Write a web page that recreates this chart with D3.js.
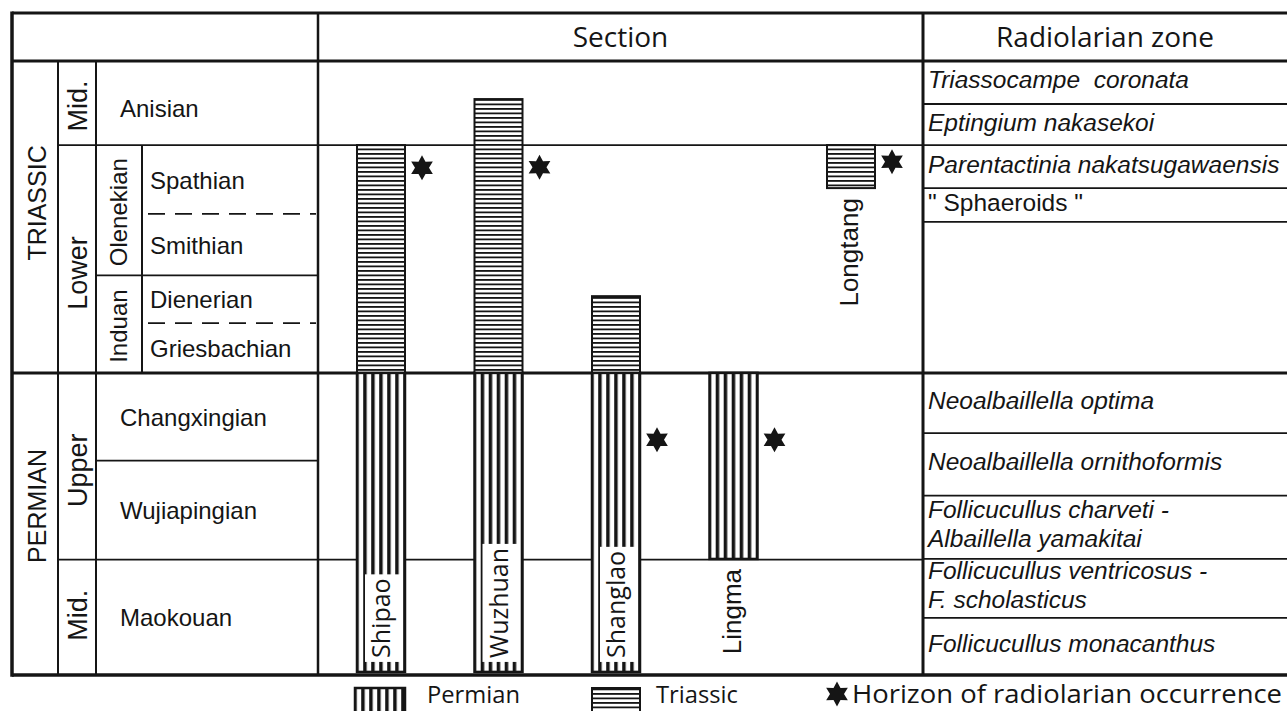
<!DOCTYPE html>
<html>
<head>
<meta charset="utf-8">
<script src="https://cdn.jsdelivr.net/npm/d3@7"></script>
<style>
  html, body { margin: 0; padding: 0; background: #fff; overflow: hidden; }
  svg { display: block; }
  text { white-space: pre; }
</style>
</head>
<body>
<svg id="chart" width="1287" height="711"></svg>
<script>
// ---------------------------------------------------------------
// Data: stratigraphic level on a relative 0–100 scale
// (0 = top of Anisian, 100 = base of Maokouan)
// ---------------------------------------------------------------
const systems = [
  { name: "TRIASSIC", top: 0,    base: 50.8 },
  { name: "PERMIAN",  top: 50.8, base: 100 }
];
const seriesUnits = [
  { name: "Mid.",  top: 0,    base: 13.7 },
  { name: "Lower", top: 13.7, base: 50.8 },
  { name: "Upper", top: 50.8, base: 81.2 },
  { name: "Mid.",  top: 81.2, base: 100 }
];
const stageGroups = [
  { name: "Olenekian", top: 13.7, base: 34.9 },
  { name: "Induan",    top: 34.9, base: 50.8 }
];
const stageNames  = ["Anisian", "Spathian", "Smithian", "Dienerian", "Griesbachian", "Changxingian", "Wujiapingian", "Maokouan"];
const stageTops   = [0,    13.7, 24.9, 34.9, 42.7, 50.8, 65.1, 81.2];
const stageBases  = [13.7, 24.9, 34.9, 42.7, 50.8, 65.1, 81.2, 100];
const stageInGroup = [false, true, true, true, true, false, false, false];
const informalBoundaries = [24.9, 42.7];   // substage limits (dashed)

const sections     = ["Shipao", "Wuzhuan", "Shanglao", "Lingma", "Longtang"];
const permianTop   = [50.8, 50.8, 50.8, 50.8, null];
const permianBase  = [99.5, 99.5, 99.5, 81.1, null];
const triassicTop  = [13.7, 6.2,  38.3, null, 13.7];
const triassicBase = [50.8, 50.8, 50.8, null, 20.7];
const occurrences  = [17.4, 17.3, 61.7, 61.7, 16.4];

const zoneBounds = [0, 7.0, 13.7, 20.7, 26.2, 50.8, 60.6, 70.8, 81.1, 90.7, 100];
const zoneNames = [
  ["Triassocampe  coronata"],
  ["Eptingium nakasekoi"],
  ["Parentactinia nakatsugawaensis"],
  ["\" Sphaeroids \""],
  [],
  ["Neoalbaillella optima"],
  ["Neoalbaillella ornithoformis"],
  ["Follicucullus charveti -", "Albaillella yamakitai"],
  ["Follicucullus ventricosus -", "F. scholasticus"],
  ["Follicucullus monacanthus"]
];
const zoneIsTaxon = [true, true, true, false, false, true, true, true, true, true];

const headers = ["Section", "Radiolarian zone"];
const legendLabels = ["Permian", "Triassic", "Horizon of radiolarian occurrence"];

// ---------------------------------------------------------------
// Layout
// ---------------------------------------------------------------
const INK = "#151515";
const SANS = "'Liberation Sans', Arial, Helvetica, sans-serif";
const HUMANIST = "'Open Sans', 'Noto Sans', sans-serif";
const X = { left: 12, sys: 58, ser: 96, sub: 142, strat: 318, sect: 923, right: 1287 };
const frameTop = 13, headBottom = 61, frameBottom = 675;

const y = d3.scaleLinear().domain([0, 100]).range([headBottom, frameBottom]);
const x = d3.scalePoint().domain(sections).range([381, 851]);
const barW = 48;

const svg = d3.select("#chart");
svg.append("rect").attr("width", 1287).attr("height", 711).attr("fill", "#fff");
const defs = svg.append("defs");

// Triassic fill: fine horizontal ruling
const tri = defs.append("pattern").attr("id", "tri")
  .attr("patternUnits", "userSpaceOnUse").attr("width", 10).attr("height", 4.5);
tri.append("rect").attr("width", 10).attr("height", 4.5).attr("fill", "#fff");
tri.append("rect").attr("y", 0).attr("width", 10).attr("height", 1.8).attr("fill", INK);

// Permian fill: bold vertical ruling, aligned to each column
function permianPattern(id, x0) {
  const p = defs.append("pattern").attr("id", id)
    .attr("patternUnits", "userSpaceOnUse")
    .attr("x", x0 + 6.2).attr("y", 0)
    .attr("width", 8).attr("height", 10);
  p.append("rect").attr("width", 8).attr("height", 10).attr("fill", "#fff");
  p.append("rect").attr("width", 3.5).attr("height", 10).attr("fill", INK);
}
sections.forEach((s, i) => permianPattern("perm" + i, x(s) - barW / 2));

const lines = svg.append("g").attr("stroke", INK).attr("fill", "none");
function hline(yy, x1, x2, w, dash) {
  const l = lines.append("line").attr("x1", x1).attr("x2", x2).attr("y1", yy).attr("y2", yy)
    .attr("stroke-width", w);
  if (dash) l.attr("stroke-dasharray", dash);
}
function vline(xx, y1, y2, w) {
  lines.append("line").attr("x1", xx).attr("x2", xx).attr("y1", y1).attr("y2", y2)
    .attr("stroke-width", w);
}

// series boundaries inside Triassic/Permian (run through the section column)
seriesUnits.slice(1).forEach(d => {
  if (d.top !== systems[1].top) hline(y(d.top), X.sys, X.sect, 1.8);
});
// stage boundaries in the stage column
stageTops.forEach((t, i) => {
  if (i === 0) return;
  const onSeries = seriesUnits.some(s => s.top === t) || systems.some(s => s.top === t);
  if (onSeries || informalBoundaries.includes(t)) return;
  hline(y(t), X.ser, X.strat, 1.8);
});
informalBoundaries.forEach(t => hline(y(t), X.sub + 6, X.strat - 2, 1.8, "17 10"));
// zone boundaries
zoneBounds.slice(1, -1).forEach(t => {
  if (t === systems[1].top) return;
  hline(y(t), X.sect, X.right, 1.8);
});
// Triassic / Permian boundary
hline(y(systems[1].top), X.left, X.right, 3);

// vertical dividers
vline(X.sys, headBottom, frameBottom, 2);
vline(X.ser, headBottom, frameBottom, 2);
vline(X.sub, y(stageGroups[0].top), y(stageGroups[1].base), 2);
vline(X.strat, frameTop, frameBottom, 2.5);
vline(X.sect, frameTop, frameBottom, 3);

// frame
hline(frameTop, X.left, X.right, 3);
hline(headBottom, X.left, X.right, 3);
hline(frameBottom, X.left, X.right, 3.5);
vline(X.left, frameTop - 1.5, frameBottom + 1.75, 3.5);

// ---------------------------------------------------------------
// Section columns
// ---------------------------------------------------------------
const bars = svg.append("g");
sections.forEach((s, i) => {
  const x0 = x(s) - barW / 2;
  if (triassicTop[i] !== null) {
    bars.append("rect").attr("x", x0).attr("width", barW)
      .attr("y", y(triassicTop[i])).attr("height", y(triassicBase[i]) - y(triassicTop[i]))
      .attr("fill", "url(#tri)").attr("stroke", INK).attr("stroke-width", 2);
  }
  if (permianTop[i] !== null) {
    bars.append("rect").attr("x", x0).attr("width", barW)
      .attr("y", y(permianTop[i])).attr("height", y(permianBase[i]) - y(permianTop[i]))
      .attr("fill", "url(#perm" + i + ")").attr("stroke", INK).attr("stroke-width", 2.5);
  }
});

// section names
const names = svg.append("g").attr("fill", INK);
sections.forEach((s, i) => {
  const cx = x(s);
  const reachesBase = permianBase[i] !== null && permianBase[i] > 95;
  if (reachesBase) {
    const bottomY = y(permianBase[i]) - 14;
    const t = names.append("text")
      .attr("transform", `translate(${cx + 9},${bottomY}) rotate(-90)`)
      .attr("font-family", HUMANIST).attr("font-size", 25)
      .attr("text-anchor", "start").text(s);
    const len = t.node().getComputedTextLength();
    names.insert("rect", () => t.node())
      .attr("x", cx - 16).attr("width", 36)
      .attr("y", bottomY - len - 4).attr("height", len + 8)
      .attr("fill", "#fff");
  } else {
    const base = permianBase[i] !== null ? permianBase[i] : triassicBase[i];
    names.append("text")
      .attr("transform", `translate(${cx + 7},${y(base) + 10}) rotate(-90)`)
      .attr("font-family", SANS).attr("font-size", 26)
      .attr("text-anchor", "end").text(s);
  }
});

// horizons of radiolarian occurrence
function starPath(r1, r2) {
  const pts = d3.range(12).map(k => {
    const a = k * Math.PI / 6 - Math.PI / 2;
    const r = k % 2 ? r2 : r1;
    return [r * Math.cos(a), r * Math.sin(a)];
  });
  return "M" + pts.map(p => p[0].toFixed(2) + "," + p[1].toFixed(2)).join("L") + "Z";
}
const STAR = starPath(12.5, 7);
svg.append("g").selectAll("path").data(sections).join("path")
  .attr("d", STAR)
  .attr("transform", (s, i) => `translate(${x(s) + 41},${y(occurrences[i])})`)
  .attr("fill", INK);

// ---------------------------------------------------------------
// Stratigraphic labels
// ---------------------------------------------------------------
const lab = svg.append("g").attr("fill", INK).attr("font-family", SANS);
const mid = d => (y(d.top) + y(d.base)) / 2;
const sysNudge = { TRIASSIC: -14, PERMIAN: -18 };
systems.forEach(d => {
  lab.append("text")
    .attr("transform", `translate(${X.left + 34},${mid(d) + (sysNudge[d.name] || 0)}) rotate(-90)`)
    .attr("text-anchor", "middle").attr("font-size", 25).text(d.name);
});
const serNudge = [3, 14, 4, -2];
seriesUnits.forEach((d, i) => {
  lab.append("text")
    .attr("transform", `translate(${X.sys + 29},${mid(d) + serNudge[i]}) rotate(-90)`)
    .attr("text-anchor", "middle").attr("font-size", 27).text(d.name);
});
stageGroups.forEach(d => {
  lab.append("text")
    .attr("transform", `translate(${X.ser + 31},${mid(d) + 2}) rotate(-90)`)
    .attr("text-anchor", "middle").attr("font-size", 24).text(d.name);
});
stageNames.forEach((n, i) => {
  const cy = (y(stageTops[i]) + y(stageBases[i])) / 2;
  const x0 = stageInGroup[i] ? X.sub + 8 : X.ser + 24;
  const dy = i === 0 ? 14 : 9;
  lab.append("text").attr("x", x0).attr("y", cy + dy)
    .attr("font-size", 24).text(n);
});

// radiolarian zones
zoneNames.forEach((zl, i) => {
  const cy = (y(zoneBounds[i]) + y(zoneBounds[i + 1])) / 2;
  const first = zl.length === 2 ? cy - 9 : cy + 6;
  zl.forEach((t, k) => {
    lab.append("text").attr("x", X.sect + 5).attr("y", first + k * 29)
      .attr("font-size", 24.5)
      .attr("font-style", zoneIsTaxon[i] ? "italic" : "normal")
      .attr("xml:space", "preserve")
      .text(t);
  });
});

// headers
const headY = (frameTop + headBottom) / 2 + 10;
const headCenters = [(X.strat + X.sect) / 2, (X.sect + X.right) / 2];
headers.forEach((h, i) => {
  svg.append("text").attr("x", headCenters[i]).attr("y", headY)
    .attr("text-anchor", "middle").attr("font-family", HUMANIST)
    .attr("font-size", 28).attr("fill", INK).text(h);
});

// ---------------------------------------------------------------
// Legend
// ---------------------------------------------------------------
const lg = svg.append("g").attr("fill", INK).attr("font-family", HUMANIST);
const legY = 703;
permianPattern("permLeg", 355);
lg.append("rect").attr("x", 355).attr("y", 688).attr("width", 50).attr("height", 30)
  .attr("fill", "url(#permLeg)").attr("stroke", INK).attr("stroke-width", 2.5);
lg.append("text").attr("x", 427).attr("y", legY).attr("font-size", 24)
  .attr("textLength", 93).attr("lengthAdjust", "spacingAndGlyphs").text(legendLabels[0]);

lg.append("rect").attr("x", 592).attr("y", 688).attr("width", 48).attr("height", 30)
  .attr("fill", "url(#tri)").attr("stroke", INK).attr("stroke-width", 2);
lg.append("text").attr("x", 656).attr("y", legY).attr("font-size", 24)
  .attr("textLength", 82).attr("lengthAdjust", "spacingAndGlyphs").text(legendLabels[1]);

lg.append("path").attr("d", STAR).attr("transform", "translate(837,694)");
lg.append("text").attr("x", 852).attr("y", legY).attr("font-size", 25)
  .attr("textLength", 430).attr("lengthAdjust", "spacingAndGlyphs").text(legendLabels[2]);
</script>
</body>
</html>
